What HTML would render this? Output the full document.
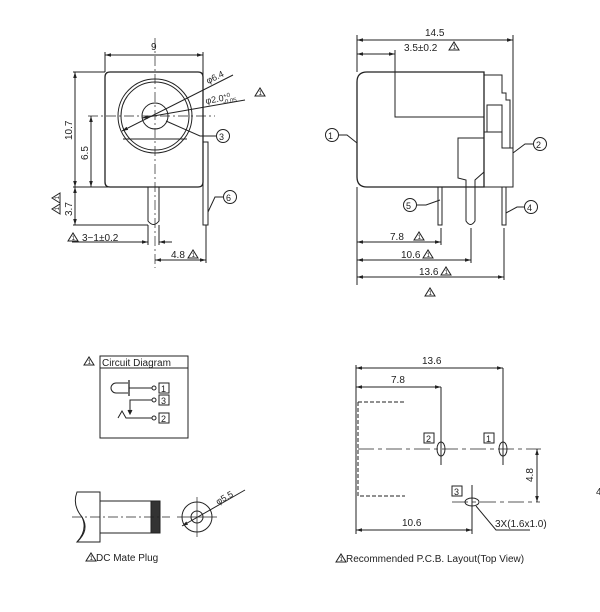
<!DOCTYPE html>
<html><head><meta charset="utf-8"><style>
html,body{margin:0;padding:0;background:#fff;}
svg{display:block;}
text{font-family:"Liberation Sans",sans-serif;font-size:10px;fill:#222;}
</style></head><body>
<svg width="600" height="612" viewBox="0 0 600 612" xmlns="http://www.w3.org/2000/svg">
<defs>
<marker id="a" viewBox="0 0 10 10" refX="10" refY="5" markerWidth="6" markerHeight="6" orient="auto-start-reverse"><path d="M0,2 L10,5 L0,8 z" fill="#222"/></marker>
<g id="w"><path d="M0,0 L5,-8 L10,0 Z" fill="none" stroke="#222" stroke-width="1"/><text x="3.6" y="-1" style="font-size:6px">1</text></g>
</defs>
<g stroke="#222" stroke-width="1" fill="none">
<!-- FRONT VIEW -->
<path d="M110,72 H198 Q203,72 203,77 V182 Q203,187 198,187 H110 Q105,187 105,182 V77 Q105,72 110,72 Z" stroke-width="1.3"/>
<circle cx="155" cy="116" r="37"/>
<circle cx="155" cy="116" r="34"/>
<circle cx="155" cy="116" r="13"/>
<line x1="123" y1="139" x2="187" y2="139"/>
<line x1="155" y1="38" x2="155" y2="268" stroke-dasharray="10,3,2,3" stroke-width="0.7"/>
<line x1="88" y1="116" x2="215" y2="116" stroke-dasharray="10,3,2,3" stroke-width="0.7"/>
<path d="M148,187 V221 Q153.5,228 159,221 V187"/>
<path d="M203,142 H208 V225 H203 Z"/>
<!-- dims front -->
<line x1="105" y1="52" x2="105" y2="72"/><line x1="203" y1="52" x2="203" y2="142"/>
<line x1="105" y1="55" x2="203" y2="55" marker-start="url(#a)" marker-end="url(#a)"/>
<line x1="73" y1="72" x2="105" y2="72"/><line x1="73" y1="187" x2="110" y2="187"/>
<line x1="75" y1="72" x2="75" y2="187" marker-start="url(#a)" marker-end="url(#a)"/>
<line x1="91" y1="116" x2="91" y2="187" marker-start="url(#a)" marker-end="url(#a)"/>
<line x1="73" y1="225" x2="148" y2="225"/>
<line x1="75" y1="187" x2="75" y2="225" marker-start="url(#a)" marker-end="url(#a)"/>
<line x1="148" y1="225" x2="148" y2="245"/><line x1="159" y1="225" x2="159" y2="245"/>
<line x1="72" y1="242" x2="148" y2="242" marker-end="url(#a)"/>
<line x1="159" y1="242" x2="172" y2="242" marker-start="url(#a)"/>
<line x1="206" y1="225" x2="206" y2="263"/>
<line x1="155" y1="260" x2="206" y2="260" marker-start="url(#a)" marker-end="url(#a)"/>
<line x1="122" y1="131" x2="233" y2="75" marker-start="url(#a)"/>
<line x1="142" y1="118" x2="245" y2="100" marker-start="url(#a)"/>
<path d="M166,121 L200,136 H216"/>
<circle cx="223" cy="136" r="6.5"/>
<path d="M208,212 L215,197 H223"/>
<circle cx="230" cy="197" r="6.5"/>
<!-- SIDE VIEW -->
<path d="M367,72 H484 V187 H367 Q357,187 357,177 V82 Q357,72 367,72 Z" stroke-width="1.3"/>
<path d="M395,72 V117 H484"/>
<path d="M484,75 H502 V93 H506 V100 H510 V148 H513 V187 H484"/>
<path d="M487,105 H502 V132 H487 Z"/>
<path d="M484,132 H502 V148 H513"/>
<path d="M458,178 V138 H484 V172 L475,180 V221 Q470.5,228 466,221 V180 Z"/>
<path d="M438,187 V225 H442 V187"/>
<path d="M502,187 V225 H506 V187"/>
<line x1="357" y1="35" x2="357" y2="72"/><line x1="513" y1="35" x2="513" y2="148"/>
<line x1="357" y1="40" x2="513" y2="40" marker-start="url(#a)" marker-end="url(#a)"/>
<line x1="395" y1="50" x2="395" y2="72"/>
<line x1="357" y1="54" x2="395" y2="54" marker-start="url(#a)" marker-end="url(#a)"/>
<line x1="357" y1="187" x2="357" y2="285"/>
<line x1="441" y1="228" x2="441" y2="245"/><line x1="471" y1="228" x2="471" y2="263"/><line x1="504" y1="228" x2="504" y2="280"/>
<line x1="357" y1="242" x2="441" y2="242" marker-start="url(#a)" marker-end="url(#a)"/>
<line x1="357" y1="260" x2="471" y2="260" marker-start="url(#a)" marker-end="url(#a)"/>
<line x1="357" y1="277" x2="504" y2="277" marker-start="url(#a)" marker-end="url(#a)"/>
<path d="M357,143 L347,135 H339"/><circle cx="332" cy="135" r="6.5"/>
<path d="M513,153 L525,144 H533"/><circle cx="540" cy="144" r="6.5"/>
<path d="M440,200 L426,205 H417"/><circle cx="410" cy="205" r="6.5"/>
<path d="M506,213 L517,207 H524"/><circle cx="531" cy="207" r="6.5"/>
<!-- CIRCUIT -->
<rect x="100" y="356" width="88" height="82"/>
<line x1="100" y1="368" x2="188" y2="368"/>
<path d="M128,383 H116 A5,5 0 0 0 116,393 H128"/>
<line x1="129" y1="380" x2="129" y2="396" stroke-width="1.3"/>
<line x1="129" y1="388" x2="152" y2="388"/><circle cx="154" cy="388" r="2"/>
<path d="M152,400 H130 V413" /><path d="M128,410 L130,414 L132,410" fill="#222"/>
<circle cx="154" cy="400" r="2"/>
<path d="M118,418 L122,411 L126,418 H152"/><circle cx="154" cy="418" r="2"/>
<rect x="159" y="383" width="10" height="10"/>
<rect x="159" y="395" width="10" height="10"/>
<rect x="159" y="413" width="10" height="10"/>
<!-- MATE PLUG -->
<path d="M77,492 H100 V542 H77 Q88,530 82,517 Q72,505 77,492 Z"/>
<path d="M82,517 Q90,530 77,542"/>
<rect x="100" y="501" width="60" height="32"/>
<rect x="151" y="501" width="9" height="32" fill="#333"/>
<line x1="72" y1="517" x2="170" y2="517" stroke-dasharray="10,3,2,3" stroke-width="0.7"/>
<circle cx="197" cy="517" r="15"/><circle cx="197" cy="517" r="6"/>
<line x1="177" y1="517" x2="217" y2="517" stroke-width="0.7"/><line x1="197" y1="497" x2="197" y2="537" stroke-width="0.7"/>
<line x1="182" y1="526" x2="245" y2="490" marker-start="url(#a)"/>
<!-- PCB -->
<line x1="356" y1="365" x2="356" y2="534"/>
<line x1="356" y1="368" x2="503" y2="368" marker-start="url(#a)" marker-end="url(#a)"/>
<line x1="356" y1="387" x2="441" y2="387" marker-start="url(#a)" marker-end="url(#a)"/>
<line x1="441" y1="387" x2="441" y2="465"/><line x1="503" y1="368" x2="503" y2="465"/>
<path d="M358,402 H405 M358,402 V496 H405" stroke-dasharray="4,2"/>
<line x1="358" y1="449" x2="541" y2="449" stroke-dasharray="16,4,4,4" stroke-width="0.8"/>
<ellipse cx="441" cy="449" rx="4" ry="7"/><ellipse cx="503" cy="449" rx="4" ry="7"/>
<ellipse cx="472" cy="502" rx="7" ry="4"/>
<line x1="472" y1="485" x2="472" y2="534"/>
<line x1="452" y1="502" x2="540" y2="502" stroke-dasharray="16,4,4,4" stroke-width="0.8"/>
<line x1="537" y1="449" x2="537" y2="502" marker-start="url(#a)" marker-end="url(#a)"/>
<line x1="356" y1="530" x2="472" y2="530" marker-start="url(#a)" marker-end="url(#a)"/>
<path d="M476,506 L496,530 H530"/>
<rect x="424" y="433" width="10" height="10"/>
<rect x="484" y="433" width="10" height="10"/>
<rect x="452" y="486" width="10" height="10"/>
</g>
<!-- TEXT -->
<text x="151" y="50">9</text>
<text transform="translate(208,84) rotate(-26)" style="font-size:9px">φ6.4</text>
<text transform="translate(206,104) rotate(-10)" style="font-size:9px">φ2.0<tspan dy="-3" style="font-size:6px">+0</tspan><tspan dx="-8" dy="6" style="font-size:6px">-0.05</tspan></text>
<use href="#w" x="255" y="96"/>
<text x="219" y="140" style="font-size:9px">3</text>
<text x="226" y="201" style="font-size:9px">6</text>
<text transform="translate(72,140) rotate(-90)">10.7</text>
<text transform="translate(88,160) rotate(-90)">6.5</text>
<text transform="translate(72,216) rotate(-90)">3.7</text>
<g transform="translate(60,214) rotate(-90)"><use href="#w" x="0" y="0"/><use href="#w" x="11" y="0"/></g>
<use href="#w" x="68" y="241"/><text x="82" y="241">3−1±0.2</text>
<text x="171" y="258">4.8</text><use href="#w" x="188" y="258"/>
<text x="425" y="36">14.5</text>
<text x="404" y="51">3.5±0.2</text><use href="#w" x="449" y="50"/>
<text x="328" y="139" style="font-size:9px">1</text>
<text x="536" y="148" style="font-size:9px">2</text>
<text x="406" y="209" style="font-size:9px">5</text>
<text x="527" y="211" style="font-size:9px">4</text>
<text x="390" y="240">7.8</text><use href="#w" x="414" y="240"/>
<text x="401" y="258">10.6</text><use href="#w" x="423" y="258"/>
<text x="419" y="275">13.6</text><use href="#w" x="441" y="275"/>
<use href="#w" x="425" y="296"/>
<use href="#w" x="84" y="365"/><text x="102" y="366">Circuit Diagram</text>
<text x="161" y="392" style="font-size:9px">1</text>
<text x="161" y="404" style="font-size:9px">3</text>
<text x="161" y="422" style="font-size:9px">2</text>
<text transform="translate(218,505) rotate(-30)" style="font-size:9px">φ5.5</text>
<use href="#w" x="86" y="561"/><text x="96" y="561">DC Mate Plug</text>
<text x="422" y="364">13.6</text>
<text x="391" y="383">7.8</text>
<text x="426" y="442" style="font-size:9px">2</text>
<text x="486" y="442" style="font-size:9px">1</text>
<text x="454" y="495" style="font-size:9px">3</text>
<text transform="translate(533,482) rotate(-90)">4.8</text>
<text x="402" y="526">10.6</text>
<text x="495" y="527">3X(1.6x1.0)</text>
<use href="#w" x="336" y="562"/><text x="346" y="562">Recommended P.C.B. Layout(Top View)</text>
<text x="596" y="495">4</text>
</svg>
</body></html>
